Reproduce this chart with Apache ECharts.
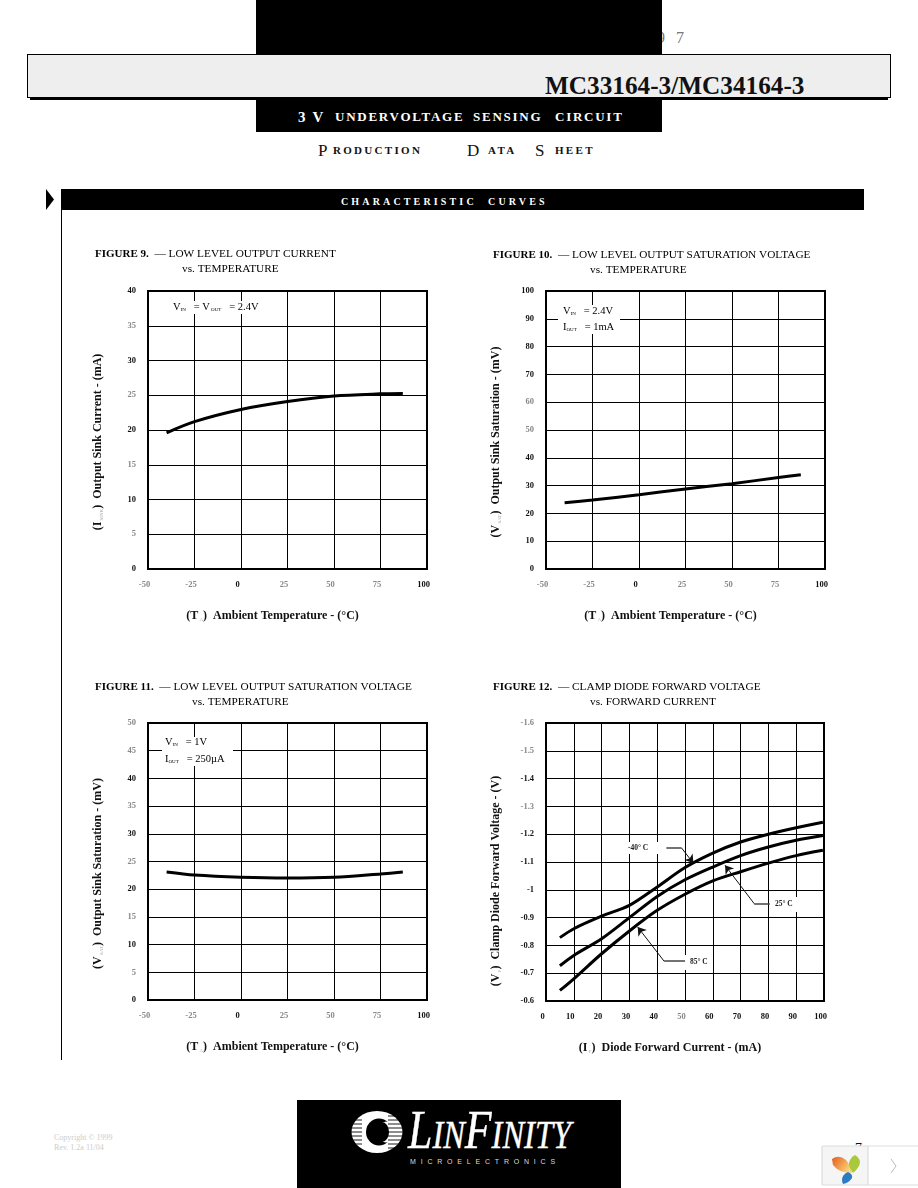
<!DOCTYPE html>
<html>
<head>
<meta charset="utf-8">
<title>MC33164-3/MC34164-3</title>
<script src="https://cdn.jsdelivr.net/npm/echarts@6/dist/echarts.min.js"></script>
<style>
  html, body { margin: 0; padding: 0; background: #fff; }
  #page { position: relative; width: 918px; height: 1188px; overflow: hidden; font-family: 'Liberation Serif', serif; }
  #chart { position: absolute; left: 0; top: 0; width: 918px; height: 1188px; }
  .box { position: absolute; }
  .txt { position: absolute; white-space: nowrap; line-height: 1; }
  .sub3v { color: #fff; font-weight: bold; font-size: 13px; top: 110px; letter-spacing: 1.75px; }
  .sub3v b { font-size: 15px; }
  .pds { color: #111; font-weight: bold; font-size: 11px; top: 145px; letter-spacing: 2.3px; }
  .pdsb { color: #111; font-size: 17px; top: 142px; }
</style>
</head>
<body>
<div id="page">
  <div class="txt" style="left:657px;top:30px;font-size:16px;color:#777;letter-spacing:3.5px">9 7</div>
  <div class="box" style="left:256px;top:0;width:406px;height:54px;background:#000"></div>
  <div class="box" style="left:30px;top:60px;width:858px;height:40px;background:#000"></div>
  <div class="box" style="left:27px;top:54px;width:862px;height:42px;background:#eee;border:1px solid #000"></div>
  <div class="txt" style="left:545px;top:73px;font-size:25px;font-weight:bold;color:#111;transform-origin:left top;transform:scaleX(1.01)">MC33164-3/MC34164-3</div>
  <div class="box" style="left:256px;top:100px;width:406px;height:32px;background:#000"></div>
  <div class="txt sub3v" style="left:298px"><b>3 V</b></div>
  <div class="txt sub3v" style="left:335px">UNDERVOLTAGE</div>
  <div class="txt sub3v" style="left:473px">SENSING</div>
  <div class="txt sub3v" style="left:555px">CIRCUIT</div>
  <div class="txt pdsb" style="left:318px">P</div>
  <div class="txt pds" style="left:333px">RODUCTION</div>
  <div class="txt pdsb" style="left:467px">D</div>
  <div class="txt pds" style="left:488px">ATA</div>
  <div class="txt pdsb" style="left:535px">S</div>
  <div class="txt pds" style="left:555px">HEET</div>
  <svg class="box" style="left:46px;top:189px" width="9" height="21"><path d="M0 0 L8 10.5 L0 21 Z" fill="#000"/></svg>
  <div class="box" style="left:61px;top:189px;width:803px;height:21px;background:#000"></div>
  <div class="txt" style="left:341px;top:197px;color:#fff;font-weight:bold;font-size:10px;letter-spacing:3.15px">CHARACTERISTIC&nbsp; CURVES</div>
  <div class="box" style="left:61px;top:210px;width:1px;height:850px;background:#000"></div>
  <div class="txt" style="left:54px;top:1133px;font-size:8px;color:#ccc;line-height:10px">Copyright © 1999<br>Rev. 1.2a 11/04</div>
  <div class="box" style="left:297px;top:1100px;width:324px;height:88px;background:#000"></div>
  <svg class="box" style="left:340px;top:1100px" width="240" height="80">
    <ellipse cx="37" cy="32" rx="25.5" ry="21" fill="#fff"/>
    <ellipse cx="39" cy="32" rx="13" ry="13.5" fill="#000"/>
    <ellipse cx="46" cy="32" rx="7" ry="10.5" fill="#fff"/>
    <ellipse cx="42" cy="32" rx="7" ry="10" fill="#000"/>
    <g stroke="#000" stroke-width="0.9">
      <path d="M10 20H22M10 24H22M10 28H22M10 32H22M10 36H22M10 40H22M10 44H22"/>
      <path d="M48 16H64M48 20H64M48 24H64M48 28H64M48 32H64M48 36H64M48 40H64M48 44H64M48 48H64"/>
    </g>
    <text y="48" fill="#fff" stroke="#fff" stroke-width="0.4" font-family="Liberation Serif" font-style="italic" textLength="163" lengthAdjust="spacingAndGlyphs" x="68"><tspan font-size="54">L</tspan><tspan font-size="40">IN</tspan><tspan font-size="54">F</tspan><tspan font-size="40">INITY</tspan></text>
    <text x="70" y="64" fill="#ddd" font-family="Liberation Sans" font-size="7" letter-spacing="4.8">MICROELECTRONICS</text>
  </svg>
  <div class="txt" style="left:855px;top:1142px;font-size:14px;color:#111">7</div>
  <svg class="box" style="left:821px;top:1145px" width="97" height="41">
    <defs><linearGradient id="petal" x1="0" y1="0" x2="1" y2="0.6"><stop offset="0" stop-color="#e8591c"/><stop offset="1" stop-color="#f6d77a"/></linearGradient></defs>
    <rect x="1" y="1" width="47" height="39" fill="#f5f5f5"/>
    <rect x="47" y="1" width="50" height="39" fill="#fff"/>
    <path d="M1 1H97M1 40H97M1 1V40M47 1V40" stroke="#ddd" stroke-width="1.2" fill="none"/>
    <path d="M11 14 Q18 9 25 15 Q30 21 31 28 Q18 28 12 20 Z" fill="url(#petal)"/>
    <path d="M34 10 Q41 14 38 21 Q35 26 32 28 Q26 20 29 15 Q31 11 34 10 Z" fill="#a9c83c"/>
    <path d="M27 27 Q32 29 31 33 Q28 38 22 39 Q20 35 22 31 Q24 28 27 27 Z" fill="#2b7cc4"/>
    <path d="M70 14 L75 21 L70 28" stroke="#bbb" stroke-width="1" fill="none"/>
  </svg>
  <div id="chart"></div>
</div>
<script>
  // figure 9
  const fig9Temp = [-40, -25, 0, 25, 50, 75, 87]
  const fig9Sink = [19.6, 21.2, 22.95, 24.1, 24.9, 25.2, 25.25]
  // figure 10
  const fig10Temp = [-40, -25, 0, 25, 50, 75, 87]
  const fig10Sat = [23.8, 24.8, 26.7, 28.8, 30.7, 32.9, 33.9]
  // figure 11
  const fig11Temp = [-40, -25, 0, 25, 50, 75, 87]
  const fig11Sat = [23.1, 22.55, 22.15, 22, 22.15, 22.75, 23.1]
  // figure 12
  const fig12Current = [5, 10, 20, 30, 40, 50, 60, 70, 80, 90, 99.6]
  const fig12Minus40 = [-0.828, -0.86, -0.905, -0.944, -1.01, -1.08, -1.132, -1.172, -1.2, -1.223, -1.243]
  const fig12Plus25 = [-0.727, -0.764, -0.824, -0.9, -0.976, -1.036, -1.082, -1.123, -1.154, -1.178, -1.195]
  const fig12Plus85 = [-0.638, -0.68, -0.77, -0.852, -0.926, -0.984, -1.032, -1.065, -1.096, -1.123, -1.142]
  // leader lines of figure 12, [x, y] in axis units, last point is the arrow tip
  const leaderMinus40 = [[43.3, -1.15], [48.8, -1.15], [53, -1.096]]
  const leaderPlus25 = [[80.5, -0.95], [74.9, -0.95], [64.4, -1.088]]
  const leaderPlus85 = [[50, -0.743], [42.5, -0.743], [33, -0.866]]

  // labels that came out grey in the scan
  const fadedTempLabels = [-50, -25, 25, 50, 75]
  const fadedCurrentLabels = [50]
  const fadedY9 = [35, 25, 15, 5]
  const fadedY10 = [60, 50]
  const fadedY11 = [50, 45, 35, 25, 15, 5]
  const fadedY12 = [-1.6, -1.5, -1.3]

  const SERIF = "'Liberation Serif', serif"
  const DARK = '#111'
  const GREY = '#888'

  function zip (xs, ys) {
    return xs.map((x, i) => [x, ys[i]])
  }

  function tickStyle (faded) {
    return {
      fontFamily: SERIF,
      fontSize: 8.5,
      fontWeight: 'bold',
      color: (v) => faded.indexOf(Number(v)) >= 0 ? GREY : DARK
    }
  }

  const nameRich = {
    b: { fontFamily: SERIF, fontSize: 12, fontWeight: 'bold', color: DARK },
    s: { fontFamily: SERIF, fontSize: 5, color: '#aaa', verticalAlign: 'bottom' }
  }

  function xAxis (idx, min, max, interval, name, faded) {
    return {
      type: 'value',
      gridIndex: idx,
      min: min,
      max: max,
      interval: interval,
      name: name,
      nameLocation: 'middle',
      nameGap: 41,
      nameTextStyle: { rich: nameRich, padding: [0, 30, 0, 0] },
      axisLine: { show: false },
      axisTick: { show: false },
      splitLine: { show: true, lineStyle: { color: '#000', width: 1 } },
      axisLabel: Object.assign({ margin: 11, padding: [0, 7, 0, 0] }, tickStyle(faded))
    }
  }

  function yAxis (idx, min, max, interval, name, faded, inverse, namePad) {
    return {
      type: 'value',
      gridIndex: idx,
      min: min,
      max: max,
      interval: interval,
      inverse: !!inverse,
      name: name,
      nameLocation: 'middle',
      nameRotate: 90,
      nameGap: 44,
      nameTextStyle: { rich: nameRich, padding: [0, namePad || 24, 0, 0] },
      axisLine: { show: false },
      axisTick: { show: false },
      splitLine: { show: true, lineStyle: { color: '#000', width: 1 } },
      axisLabel: Object.assign({ margin: 12 }, tickStyle(faded))
    }
  }

  function curve (idx, data) {
    return {
      type: 'line',
      xAxisIndex: idx,
      yAxisIndex: idx,
      data: data,
      smooth: 0.3,
      showSymbol: false,
      silent: true,
      z: 3,
      lineStyle: { color: '#000', width: 3, cap: 'butt' }
    }
  }

  function leader (points) {
    // two straight pieces, the one ending on the curve has the arrow head
    const seg = (a, b, arrow) => [
      { coord: a, symbol: 'none', lineStyle: { type: 'solid', color: arrow ? '#111' : '#444', width: arrow ? 1 : 1.5 } },
      { coord: b, symbol: arrow ? 'arrow' : 'none', symbolSize: 8 }
    ]
    return {
      silent: true,
      animation: false,
      lineStyle: { type: 'solid' },
      label: { show: false },
      data: [seg(points[0], points[1], false), seg(points[1], points[2], true)]
    }
  }

  function withLeader (s, points) {
    s.markLine = leader(points)
    return s
  }

  function sub (x, y, w, h) {
    return { type: 'rect', z: 10, shape: { x: x, y: y, width: w, height: h }, style: { fill: '#fff' } }
  }

  const noteRich = {
    m: { fontFamily: SERIF, fontSize: 10.5, color: DARK },
    s: { fontFamily: SERIF, fontSize: 5, color: '#aaa', verticalAlign: 'bottom' }
  }

  function note (x, y, text) {
    return { type: 'text', z: 11, x: x, y: y, style: { text: text, rich: noteRich, verticalAlign: 'middle' } }
  }

  function small (x, y, text) {
    return { type: 'text', z: 11, x: x, y: y, style: { text: text, fontFamily: SERIF, fontSize: 7.5, fontWeight: 'bold', fill: '#222', verticalAlign: 'middle' } }
  }

  const titleRich = {
    b: { fontFamily: SERIF, fontSize: 11, fontWeight: 'bold', color: DARK },
    n: { fontFamily: SERIF, fontSize: 11.3, color: '#222' }
  }

  function title (x, y, text) {
    return { type: 'text', z: 11, x: x, y: y, style: { text: text, rich: titleRich, verticalAlign: 'middle' } }
  }

  const tempName = '{b|(T}{s| A}{b|)  Ambient Temperature - (°C)}'

  const chart = echarts.init(document.getElementById('chart'), null, { renderer: 'canvas' })
  chart.setOption({
    animation: false,
    grid: [
      { left: 148, top: 291, width: 279, height: 278, show: true, borderColor: '#000', borderWidth: 2 },
      { left: 546, top: 291, width: 279, height: 278, show: true, borderColor: '#000', borderWidth: 2 },
      { left: 148, top: 723, width: 279, height: 277, show: true, borderColor: '#000', borderWidth: 2 },
      { left: 546, top: 723, width: 278, height: 278, show: true, borderColor: '#000', borderWidth: 2 }
    ],
    xAxis: [
      xAxis(0, -50, 100, 25, tempName, fadedTempLabels),
      xAxis(1, -50, 100, 25, tempName, fadedTempLabels),
      xAxis(2, -50, 100, 25, tempName, fadedTempLabels),
      xAxis(3, 0, 100, 10, '{b|(I}{s| F}{b|)  Diode Forward Current - (mA)}', fadedCurrentLabels)
    ],
    yAxis: [
      yAxis(0, 0, 40, 5, '{b|(I}{s| SINK}{b|)  Output Sink Current - (mA)}', fadedY9),
      yAxis(1, 0, 100, 10, '{b|(V}{s| SAT}{b|)  Output Sink Saturation - (mV)}', fadedY10),
      yAxis(2, 0, 50, 5, '{b|(V}{s| SAT}{b|)  Output Sink Saturation - (mV)}', fadedY11),
      yAxis(3, -1.6, -0.6, 0.1, '{b|(V}{s| F}{b|)  Clamp Diode Forward Voltage - (V)}', fadedY12, true, 38)
    ],
    series: [
      curve(0, zip(fig9Temp, fig9Sink)),
      curve(1, zip(fig10Temp, fig10Sat)),
      curve(2, zip(fig11Temp, fig11Sat)),
      withLeader(curve(3, zip(fig12Current, fig12Minus40)), leaderMinus40),
      withLeader(curve(3, zip(fig12Current, fig12Plus25)), leaderPlus25),
      withLeader(curve(3, zip(fig12Current, fig12Plus85)), leaderPlus85)
    ],
    graphic: [
      title(95, 254, '{b|FIGURE 9.}{n|  — LOW LEVEL OUTPUT CURRENT}'),
      title(182, 269, '{n|vs. TEMPERATURE}'),
      title(493, 255, '{b|FIGURE 10.}{n|  — LOW LEVEL OUTPUT SATURATION VOLTAGE}'),
      title(590, 270, '{n|vs. TEMPERATURE}'),
      title(95, 687, '{b|FIGURE 11.}{n|  — LOW LEVEL OUTPUT SATURATION VOLTAGE}'),
      title(192, 702, '{n|vs. TEMPERATURE}'),
      title(493, 687, '{b|FIGURE 12.}{n|  — CLAMP DIODE FORWARD VOLTAGE}'),
      title(590, 702, '{n|vs. FORWARD CURRENT}'),

      sub(169, 301, 91, 13),
      note(173, 307, '{m|V}{s|IN}{m|   = V}{s| OUT}{m|   = 2.4V}'),
      sub(558, 305, 62, 29),
      note(563, 311, '{m|V}{s|IN}{m|   = 2.4V}'),
      note(563, 327, '{m|I}{s|OUT}{m|   = 1mA}'),
      sub(162, 737, 71, 29),
      note(165, 742, '{m|V}{s|IN}{m|   = 1V}'),
      note(165, 759, '{m|I}{s|OUT}{m|   = 250µA}'),

      sub(623, 842, 42, 12),
      small(628, 848, '-40° C'),
      sub(770, 897, 27, 15),
      small(775, 904, '25° C'),
      sub(685, 955, 28, 15),
      small(690, 962, '85° C')
    ]
  })
</script>
</body>
</html>
